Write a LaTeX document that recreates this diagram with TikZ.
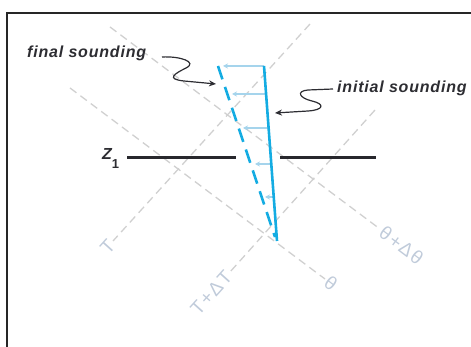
\documentclass[tikz,border=0pt]{standalone}
\usepackage{fontspec}
\setmainfont{Liberation Sans}
\usetikzlibrary{arrows.meta}
\definecolor{sblue}{RGB}{20,172,226}
\definecolor{lblue}{RGB}{165,212,236}
\definecolor{gridc}{RGB}{208,208,208}
\definecolor{glab}{RGB}{192,203,218}
\definecolor{ink}{RGB}{45,45,50}
\newfontfamily\calloutfam[LetterSpace=5]{Liberation Sans}
\newfontfamily\glabfam[LetterSpace=8]{Liberation Sans}
\begin{document}
\begin{tikzpicture}[x=1pt,y=-1pt,
  gridline/.style={draw=gridc, line width=1.3pt, dash pattern=on 8pt off 5pt},
  glabel/.style={text=glab, font=\glabfam\fontsize{19}{21}\selectfont, inner sep=2pt},
  sound/.style={draw=sblue, line width=2.6pt},
  finalsound/.style={sound, dash pattern=on 14pt off 8pt},
  shiftarrow/.style={draw=lblue, line width=1.2pt, -{Stealth[length=5pt,width=5pt]}},
  squig/.style={draw=ink, line width=1.2pt, -{Stealth[length=7pt,width=6pt]}},
  callout/.style={text=ink, font=\calloutfam\bfseries\itshape\fontsize{16}{18}\selectfont, inner sep=0pt},
  levelline/.style={draw=ink!90!black, line width=3pt},
]
\useasboundingbox (0,0) rectangle (471,347);
% frame (top and left edges visible)
\draw[line width=1.2pt, draw=black!85] (7,347) -- (7,13) -- (471,13);

% isentropes and isotherms
\node[glabel, rotate=-37, anchor=west] (Lthd) at (380,229) {θ+Δθ};
\coordinate (thd0) at (110,27);
\draw[gridline] (thd0) -- (Lthd.west);

\node[glabel, rotate=-37, anchor=west] (Lth) at (325,279) {θ};
\coordinate (th0) at (70,88);
\draw[gridline] (th0) -- (Lth.west);

\node[glabel, rotate=48, anchor=east] (LT) at (113,241) {T};
\coordinate (T0) at (310,24);
\draw[gridline] (T0) -- (LT.east);

\node[glabel, rotate=48, anchor=east] (LTd) at (230,272) {T+ΔT};
\coordinate (Td0) at (375,110);
\draw[gridline] (Td0) -- (LTd.east);

% level Z1
\node[text=ink, anchor=base west, inner sep=0pt] (Z) at (102,160)
  {\bfseries\itshape\fontsize{16}{17}\selectfont Z\raisebox{-9pt}{\upshape\fontsize{13}{14}\selectfont 1}};
\coordinate (zl0) at (127,158);
\coordinate (zl1) at (236,158);
\coordinate (zr0) at (280,158);
\coordinate (zr1) at (376,158);
\draw[levelline] (zl0) -- (zl1);
\draw[levelline] (zr0) -- (zr1);

% soundings
\coordinate (it) at (264,66);
\coordinate (ib) at (277,241);
\coordinate (ft) at (218,66);
\coordinate (fb) at (275,237);

% shift arrows
\coordinate (s1) at (264,66);  \coordinate (e1) at (223,66);
\coordinate (s2) at (266,94);  \coordinate (e2) at (232,94);
\coordinate (s3) at (268,128); \coordinate (e3) at (243,128);
\coordinate (s4) at (271,164); \coordinate (e4) at (255,164);
\coordinate (s5) at (274,197); \coordinate (e5) at (265,197);
\foreach \i in {1,...,5} {\draw[shiftarrow] (s\i) -- (e\i);}

\draw[finalsound] (ft) -- (fb);
\draw[sound] (it) -- (ib);

% callouts
\node[callout, anchor=base west] (fs) at (27,58) {final sounding};
\node[callout, anchor=base west] (is) at (337,93) {initial sounding};
\coordinate (fs0) at (162,57);
\coordinate (fs1) at (216,84);
\draw[squig] (fs0) .. controls (180,56) and (198,62) .. (186,68)
  .. controls (174,74) and (166,79) .. (184,81) -- (fs1);
\coordinate (is0) at (333,89);
\coordinate (is1) at (275,113);
\draw[squig] (is0) -- (308,90) .. controls (296,91) and (299,98) .. (312,101)
  .. controls (325,104) and (324,110) .. (308,111) -- (is1);
\end{tikzpicture}
\end{document}
